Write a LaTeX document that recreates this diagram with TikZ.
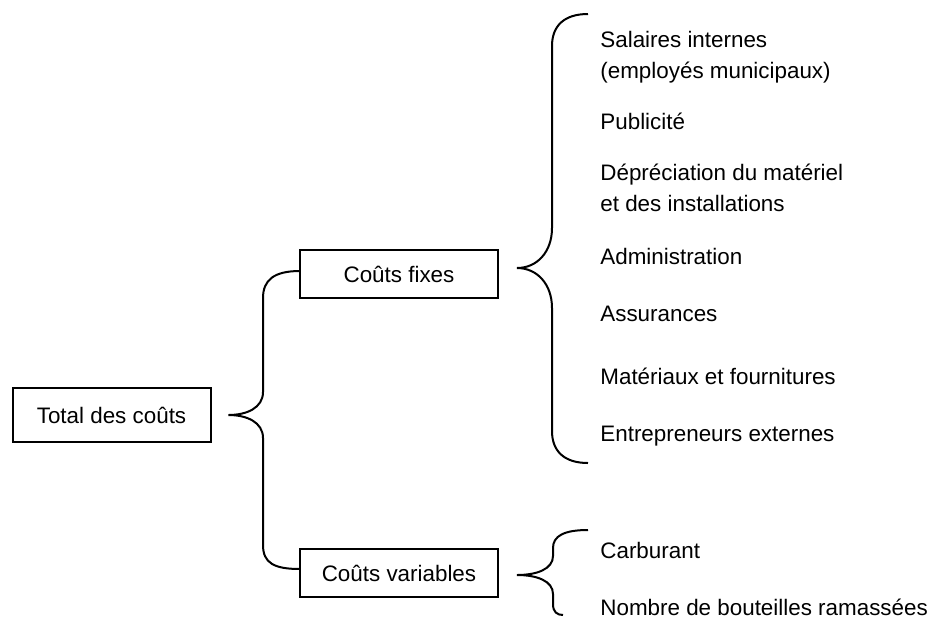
\documentclass[tikz,border=0pt]{standalone}
\usepackage{fontspec}
\setmainfont{Liberation Sans}
\begin{document}
\begin{tikzpicture}[x=0.5pt,y=-0.5pt,
    every node/.style = {font=\fontsize{11.2}{15.3}\selectfont},
    box/.style = {rectangle,draw=black,line width=1pt,minimum width=99pt,minimum height=24pt,inner sep=0pt,outer sep=0pt},
    item/.style = {anchor=base west,inner sep=0pt,align=left},
    curly/.style = {draw=black,line width=1pt}]
\useasboundingbox (0,0) rectangle (932,622);
\node[box,minimum height=27pt] (total) at (111.5,415) {Total des coûts};
\node[box] (fixes) at (399,274) {Coûts fixes};
\node[box] (variables) at (399,573) {Coûts variables};
\foreach \t/\y [count=\j] in {{Salaires internes\\(employés municipaux)}/78, Publicité/129,
    {Dépréciation du matériel\\et des installations}/211, Administration/264, Assurances/321,
    Matériaux et fournitures/384, Entrepreneurs externes/441}
    \node[item] (f\j) at (600,\y) {\t};
\foreach \t/\y [count=\j] in {Carburant/558, Nombre de bouteilles ramassées/615}
    \node[item] (v\j) at (600,\y) {\t};
\coordinate (tl) at ([xshift=9pt]total.east);
\coordinate (tf) at ([xshift=9.5pt,yshift=3pt]fixes.east);
\coordinate (tv) at ([xshift=9.5pt,yshift=-1pt]variables.east);
\coordinate (ft) at (588,14);
\coordinate (fb) at (588,463);
\coordinate (vt) at (588,530);
\coordinate (vb) at (563,615);
\draw[curly] ([yshift=1.5pt]fixes.west) .. controls +(-26,0) and +(0,-18) .. (263,298) -- (263,392)
    .. controls +(0,16) and +(18,0) .. (tl) .. controls +(18,0) and +(0,-16) .. (263,438) -- (263,545)
    .. controls +(0,18) and +(-26,0) .. ([yshift=2pt]variables.west);
\draw[curly] (ft) .. controls +(-24,0) and +(0,-20) .. (552,46) -- (552,228)
    .. controls +(0,24) and +(20,0) .. (tf) .. controls +(20,0) and +(0,-24) .. (552,308) -- (552,431)
    .. controls +(0,20) and +(-24,0) .. (fb);
\draw[curly] (vt) .. controls +(-24,0) and +(0,-12) .. (553,548) -- (553,556)
    .. controls +(0,13) and +(20,0) .. (tv) .. controls +(20,0) and +(0,-13) .. (553,594) -- (553,604)
    .. controls +(0,8) and +(-6,0) .. (vb);
\end{tikzpicture}
\end{document}
